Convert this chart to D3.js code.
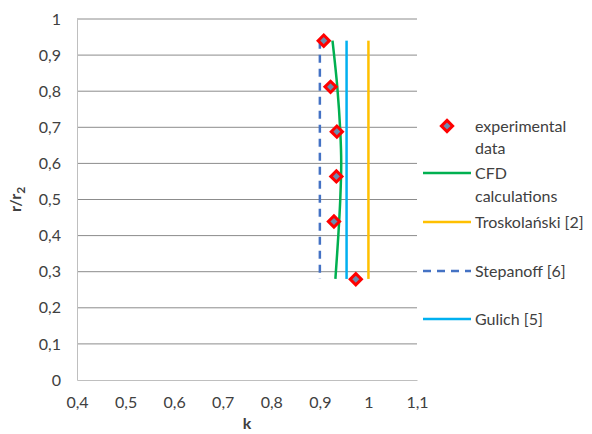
<!DOCTYPE html>
<html>
<head>
<meta charset="utf-8">
<script src="https://cdn.jsdelivr.net/npm/d3@7"></script>
<style>
  body { margin: 0; background: #fff; }
  text { font-family: Lato, "Open Sans", sans-serif; fill: #404040; }
</style>
</head>
<body>
<svg id="chart" width="592" height="434"></svg>
<script>
"use strict";

// tick values
var xTicks = [0.4, 0.5, 0.6, 0.7, 0.8, 0.9, 1.0, 1.1];
var yTicks = [0, 0.1, 0.2, 0.3, 0.4, 0.5, 0.6, 0.7, 0.8, 0.9, 1.0];

// experimental data [k, r/r2]
var expData = [[0.908, 0.94], [0.922, 0.812], [0.935, 0.688], [0.934, 0.564], [0.929, 0.439], [0.974, 0.279]];

// CFD curve
var cfdData = [[0.926, 0.94], [0.936, 0.81], [0.942, 0.69], [0.944, 0.60], [0.942, 0.50], [0.938, 0.40], [0.932, 0.28]];

// simple correlations (vertical lines)
var troskData = [[1.0, 0.94], [1.0, 0.28]];
var stepData = [[0.9, 0.94], [0.9, 0.28]];
var gulichData = [[0.955, 0.94], [0.955, 0.28]];

var svg = d3.select("#chart");

var x = d3.scaleLinear().domain([0.4, 1.1]).range([77, 417]);
var y = d3.scaleLinear().domain([0, 1]).range([380, 19]);

var fmt = function(d) { return String(+d.toFixed(1)).replace(".", ","); };

// gridlines
svg.append("g")
  .selectAll("line")
  .data(yTicks.slice(1))
  .enter()
  .append("line")
  .attr("x1", x(0.4)).attr("x2", x(1.1))
  .attr("y1", function(d) { return y(d); })
  .attr("y2", function(d) { return y(d); })
  .attr("stroke", "#8c8c8c").attr("stroke-width", 1);

// axes
var xAxis = svg.append("g")
  .attr("transform", "translate(0," + y(0) + ")")
  .call(d3.axisBottom(x).tickValues(xTicks).tickFormat(fmt).tickSize(0).tickPadding(17));
xAxis.select(".domain").attr("stroke", "#bfbfbf");

var yAxis = svg.append("g")
  .attr("transform", "translate(" + x(0.4) + ",0)")
  .call(d3.axisLeft(y).tickValues(yTicks).tickFormat(fmt).tickSize(0).tickPadding(16));
yAxis.select(".domain").attr("stroke", "#bfbfbf");

svg.selectAll(".tick text")
  .style("font-family", "Lato, 'Open Sans', sans-serif")
  .style("font-size", "16px")
  .attr("fill", "#404040");

// axis titles
svg.append("text")
  .attr("x", x(0.75)).attr("y", 429)
  .attr("text-anchor", "middle")
  .style("font-size", "16px").style("font-weight", "bold")
  .text("k");

var yt = svg.append("text")
  .attr("transform", "translate(21," + y(0.5) + ") rotate(-90)")
  .attr("text-anchor", "middle")
  .style("font-size", "16px").style("font-weight", "bold");
yt.append("tspan").text("r/r");
yt.append("tspan").attr("dy", 4).style("font-size", "12px").text("2");

var line = d3.line()
  .x(function(d) { return x(d[0]); })
  .y(function(d) { return y(d[1]); });

var series = [
  { data: stepData, color: "#4472c4", dash: "8,6" },
  { data: cfdData, color: "#00b050", dash: null, curve: true },
  { data: gulichData, color: "#00b0f0", dash: null },
  { data: troskData, color: "#ffc000", dash: null }
];

series.forEach(function(s) {
  svg.append("path")
    .datum(s.data)
    .attr("d", s.curve ? line.curve(d3.curveCatmullRom)(s.data) : line.curve(d3.curveLinear)(s.data))
    .attr("fill", "none")
    .attr("stroke", s.color)
    .attr("stroke-width", 2.5)
    .attr("stroke-dasharray", s.dash);
});

// experimental markers
var diamond = d3.symbol().type(d3.symbolDiamond2).size(80);
svg.append("g")
  .selectAll("path")
  .data(expData)
  .enter()
  .append("path")
  .attr("d", diamond)
  .attr("transform", function(d) { return "translate(" + x(d[0]) + "," + y(d[1]) + ")"; })
  .attr("fill", "#6a8caf")
  .attr("stroke", "#ff0000")
  .attr("stroke-width", 3);

// legend
var lg = svg.append("g");
lg.append("path")
  .attr("d", diamond)
  .attr("transform", "translate(447,126)")
  .attr("fill", "#6a8caf").attr("stroke", "#ff0000").attr("stroke-width", 3);

var legendLines = [
  { y: 173, color: "#00b050", dash: null },
  { y: 222, color: "#ffc000", dash: null },
  { y: 271, color: "#4472c4", dash: "8,6" },
  { y: 319, color: "#00b0f0", dash: null }
];
legendLines.forEach(function(l) {
  lg.append("line")
    .attr("x1", 423).attr("x2", 471)
    .attr("y1", l.y).attr("y2", l.y)
    .attr("stroke", l.color).attr("stroke-width", 2.5)
    .attr("stroke-dasharray", l.dash);
});

var legendText = [
  ["experimental", 126], ["data", 148],
  ["CFD", 173], ["calculations", 196],
  ["Troskolański [2]", 222],
  ["Stepanoff [6]", 271],
  ["Gulich [5]", 319]
];
lg.selectAll("text")
  .data(legendText)
  .enter()
  .append("text")
  .attr("x", 475)
  .attr("y", function(d) { return d[1]; })
  .attr("dy", "0.35em")
  .style("font-size", "16px")
  .text(function(d) { return d[0]; });
</script>
</body>
</html>
